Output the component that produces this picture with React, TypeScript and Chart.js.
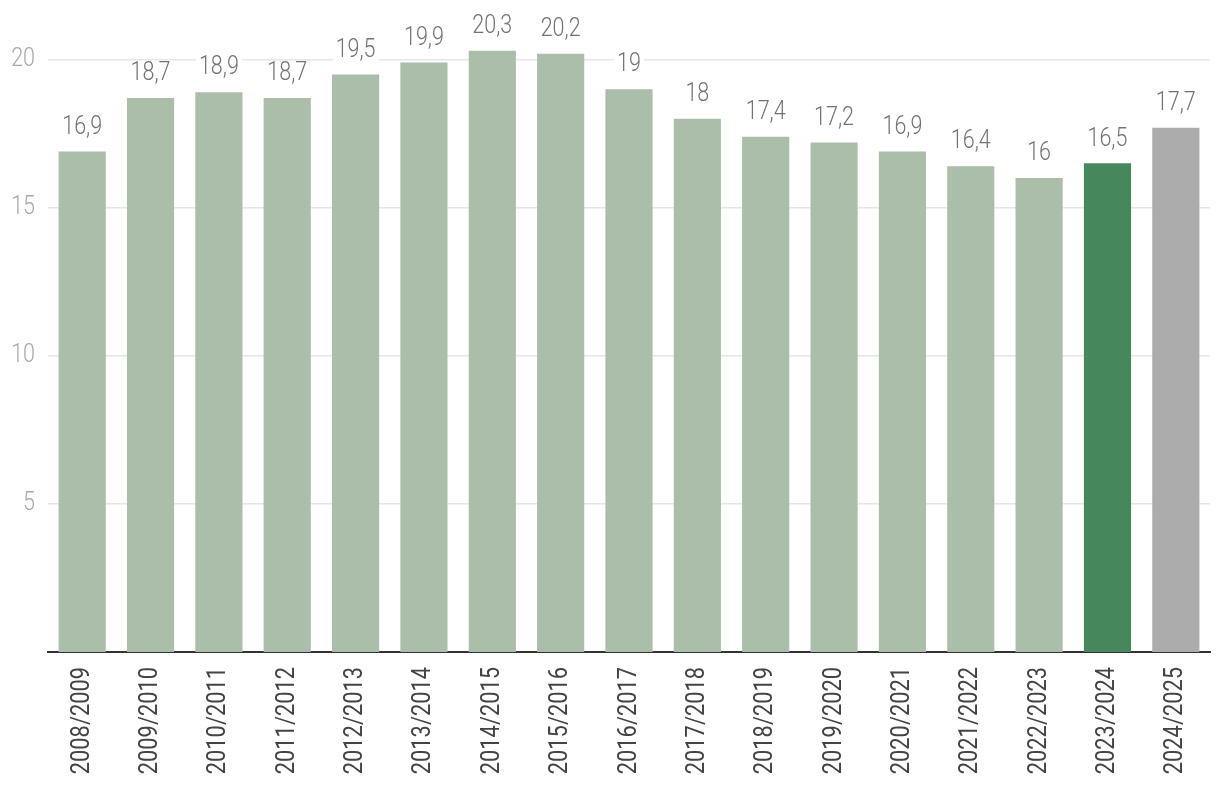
import React, { useEffect, useRef } from "react";
import { Chart, registerables } from "chart.js";

Chart.register(...registerables);

const categories = [
  "2008/2009", "2009/2010", "2010/2011", "2011/2012", "2012/2013", "2013/2014",
  "2014/2015", "2015/2016", "2016/2017", "2017/2018", "2018/2019", "2019/2020",
  "2020/2021", "2021/2022", "2022/2023", "2023/2024", "2024/2025",
];
const values = [16.9, 18.7, 18.9, 18.7, 19.5, 19.9, 20.3, 20.2, 19, 18, 17.4, 17.2, 16.9, 16.4, 16, 16.5, 17.7];
const LIGHT = "#abbea9";
const DARK = "#46875b";
const GREY = "#acacac";
const barColors = [
  LIGHT, LIGHT, LIGHT, LIGHT, LIGHT, LIGHT, LIGHT, LIGHT, LIGHT, LIGHT,
  LIGHT, LIGHT, LIGHT, LIGHT, LIGHT, DARK, GREY,
];
const yTicks = [5, 10, 15, 20];

const FONT = "Roboto, 'Liberation Sans', sans-serif";
const fmt = (v: number) => String(v).replace(".", ",");

const textPlugin = {
  id: "textPlugin",
  afterDraw(chart: any) {
    const ctx = chart.ctx;
    const xs = chart.scales.x;
    const ys = chart.scales.y;
    const meta = chart.getDatasetMeta(0);

    // y tick labels
    ctx.save();
    ctx.font = `300 25px ${FONT}`;
    ctx.fillStyle = "#a9a9a9";
    ctx.textAlign = "right";
    ctx.textBaseline = "middle";
    yTicks.forEach((v) => {
      const y = ys.getPixelForValue(v);
      ctx.save();
      ctx.translate(35, y);
      ctx.scale(0.86, 1);
      ctx.fillText(String(v), 0, 0);
      ctx.restore();
    });
    ctx.restore();

    // x category labels
    ctx.save();
    ctx.font = `400 26px ${FONT}`;
    ctx.fillStyle = "#444444";
    ctx.textAlign = "right";
    ctx.textBaseline = "middle";
    categories.forEach((c, i) => {
      const x = xs.getPixelForValue(i);
      ctx.save();
      ctx.translate(x, xs.top + 15);
      ctx.rotate(-Math.PI / 2);
      ctx.scale(0.84, 1);
      ctx.fillText(c, 0, 0);
      ctx.restore();
    });
    ctx.restore();

    // value labels
    ctx.save();
    ctx.font = `300 25px ${FONT}`;
    ctx.textAlign = "center";
    ctx.textBaseline = "middle";
    meta.data.forEach((el: any, i: number) => {
      const txt = fmt(values[i]);
      const y = el.y - 24;
      const w = ctx.measureText(txt).width * 0.86;
      ctx.fillStyle = "#ffffff";
      ctx.fillRect(el.x - w / 2 - 3, y - 11, w + 6, 22);
      ctx.save();
      ctx.translate(el.x, y);
      ctx.scale(0.86, 1);
      ctx.fillStyle = "#737373";
      ctx.fillText(txt, 0, 0);
      ctx.restore();
    });
    ctx.restore();
  },
};

export default function App() {
  const ref = useRef<HTMLCanvasElement | null>(null);
  useEffect(() => {
    if (!ref.current) return;
    const chart = new Chart(ref.current, {
      type: "bar",
      data: {
        labels: categories,
        datasets: [
          {
            data: values,
            backgroundColor: barColors,
            barPercentage: 0.69,
            categoryPercentage: 1,
          },
        ],
      },
      options: {
        animation: false,
        responsive: false,
        layout: { padding: { top: 30, right: 10, left: 0, bottom: 0 } },
        plugins: { legend: { display: false }, tooltip: { enabled: false } },
        scales: {
          x: {
            grid: { display: false },
            border: { display: true, color: "#333333", width: 2 },
            ticks: { display: false },
            afterFit: (s: any) => {
              s.height = 146;
            },
          },
          y: {
            min: 0,
            max: 21,
            afterBuildTicks: (s: any) => {
              s.ticks = yTicks.map((v) => ({ value: v }));
            },
            border: { display: false },
            grid: { color: "#e6e6e6", lineWidth: 1.5, drawTicks: false },
            ticks: { display: false },
            afterFit: (s: any) => {
              s.width = 48;
            },
          },
        },
      },
      plugins: [textPlugin],
    });
    return () => chart.destroy();
  }, []);
  return (
    <div style={{ position: "absolute", left: 0, top: 0, width: 1220, height: 798, background: "#fff" }}>
      <canvas ref={ref} width={1220} height={798} style={{ display: "block" }} />
    </div>
  );
}
